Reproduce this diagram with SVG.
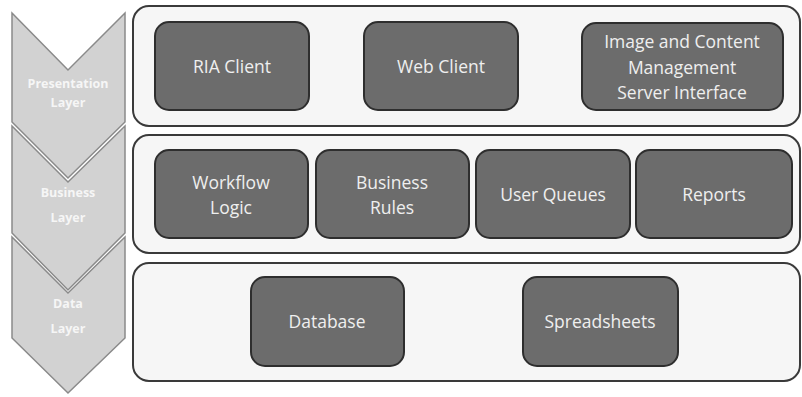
<svg xmlns="http://www.w3.org/2000/svg" width="802" height="397" viewBox="0 0 802 397">
<style>
.chev{fill:#d2d2d2;stroke:#8a8a8a;stroke-width:1.5}
.ctext{font-family:"Open Sans","Liberation Sans",sans-serif;font-size:12.5px;font-weight:bold;fill:#f6f6f6;text-anchor:middle}
.cont{fill:#f6f6f6;stroke:#3a3a3a;stroke-width:2}
.box{fill:#6c6c6c;stroke:#2e2e2e;stroke-width:2}
.t{font-family:"Open Sans","Liberation Sans",sans-serif;font-size:17.5px;fill:#efefef;text-anchor:middle}
</style>
<rect width="802" height="397" fill="#ffffff"/>
<g id="layers">
<g id="presentation-layer">
<polygon class="chev" points="12,13 68,70 125,13 125,122 68,178 12,122"/>
<text class="ctext" x="68" y="88">Presentation</text>
<text class="ctext" x="68" y="107">Layer</text>
</g>
<g id="business-layer">
<polygon class="chev" points="12,126 68,182 125,126 125,233 68,290 12,233"/>
<text class="ctext" x="68" y="197">Business</text>
<text class="ctext" x="68" y="222">Layer</text>
</g>
<g id="data-layer">
<polygon class="chev" points="12,237 68,293 125,237 125,338 68,393 12,338"/>
<text class="ctext" x="68" y="308">Data</text>
<text class="ctext" x="68" y="333">Layer</text>
</g>
</g>
<g id="containers">
<rect id="presentation-container" class="cont" x="133" y="6" width="667" height="120" rx="16"/>
<rect id="business-container" class="cont" x="133" y="135" width="667" height="118" rx="16"/>
<rect id="data-container" class="cont" x="133" y="263" width="667" height="118" rx="16"/>
</g>
<g id="ria-client"><rect class="box" x="155" y="22" width="154" height="88" rx="14"/><text class="t" x="232" y="73">RIA Client</text></g>
<g id="web-client"><rect class="box" x="364" y="22" width="154" height="88" rx="14"/><text class="t" x="441" y="73">Web Client</text></g>
<g id="image-content"><rect class="box" x="582" y="23" width="201" height="87" rx="14"/>
<text class="t" x="682" y="48">Image and Content</text>
<text class="t" x="682" y="74">Management</text>
<text class="t" x="682" y="99">Server Interface</text></g>
<g id="workflow-logic"><rect class="box" x="155" y="150" width="153" height="88" rx="14"/><text class="t" x="231" y="189">Workflow</text><text class="t" x="231" y="214">Logic</text></g>
<g id="business-rules"><rect class="box" x="316" y="150" width="153" height="88" rx="14"/><text class="t" x="392" y="189">Business</text><text class="t" x="392" y="214">Rules</text></g>
<g id="user-queues"><rect class="box" x="476" y="150" width="154" height="88" rx="14"/><text class="t" x="553" y="201">User Queues</text></g>
<g id="reports"><rect class="box" x="636" y="150" width="156" height="88" rx="14"/><text class="t" x="714" y="201">Reports</text></g>
<g id="database"><rect class="box" x="251" y="277" width="153" height="89" rx="14"/><text class="t" x="327" y="328">Database</text></g>
<g id="spreadsheets"><rect class="box" x="523" y="277" width="155" height="89" rx="14"/><text class="t" x="600" y="328">Spreadsheets</text></g>
<g id="connectors"></g>
</svg>
